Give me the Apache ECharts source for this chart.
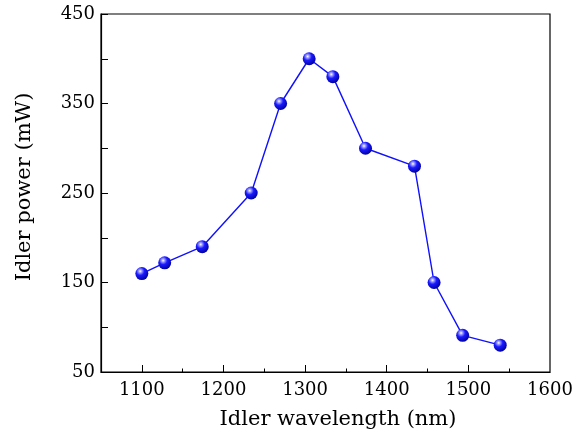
<!DOCTYPE html>
<html>
<head>
<meta charset="utf-8">
<script src="https://cdn.jsdelivr.net/npm/echarts@6/dist/echarts.min.js"></script>
<style>
  html, body { margin: 0; padding: 0; background: #fff; }
  #chart { width: 585px; height: 435px; }
</style>
</head>
<body>
<div id="chart"></div>
<script>
// Idler output power versus idler wavelength
const wavelengths = [1100, 1128, 1174, 1234, 1270, 1305, 1334, 1374, 1434, 1458, 1493, 1539];
const powers = [160, 172, 190, 250, 350, 400, 380, 300, 280, 150, 91, 80];

const xMajorTicks = [1100, 1200, 1300, 1400, 1500];
const xMinorTicks = [1150, 1250, 1350, 1450, 1550];
const xTickLabels = [1100, 1200, 1300, 1400, 1500, 1600];
const yTickLabels = [50, 150, 250, 350, 450];

const FONT = 'DejaVu Serif';
const plain = v => String(v);

const chart = echarts.init(document.getElementById('chart'), null, { renderer: 'canvas' });

const sphere = new echarts.graphic.RadialGradient(0.38, 0.32, 0.7, [
  { offset: 0, color: '#ffffff' },
  { offset: 0.18, color: '#9a9aff' },
  { offset: 0.45, color: '#1a1aff' },
  { offset: 1, color: '#0000a0' }
]);

chart.setOption({
  animation: false,
  backgroundColor: '#ffffff',
  grid: {
    left: 101, right: 35, top: 14, bottom: 60,
    show: true, borderColor: '#000', borderWidth: 1.2, backgroundColor: 'transparent'
  },
  xAxis: [
    {
      type: 'value', min: 1050, max: 1600, interval: 50,
      name: 'Idler wavelength (nm)', nameLocation: 'middle', nameGap: 37,
      nameTextStyle: { fontFamily: FONT, fontSize: 21, color: '#000', padding: [0, 0, 0, 25] },
      axisLine: { show: true, onZero: false, lineStyle: { color: '#000', width: 1.2 } },
      axisTick: { show: true, inside: true, length: 7, customValues: xMajorTicks, lineStyle: { color: '#000', width: 1 } },
      axisLabel: { customValues: xTickLabels, formatter: plain, fontFamily: FONT, fontSize: 18, color: '#000', margin: 9 },
      splitLine: { show: false }
    },
    {
      type: 'value', min: 1050, max: 1600, interval: 50, position: 'bottom',
      axisLine: { show: false },
      axisTick: { show: true, inside: true, length: 3.5, customValues: xMinorTicks, lineStyle: { color: '#000', width: 1 } },
      axisLabel: { show: false },
      splitLine: { show: false }
    }
  ],
  yAxis: {
    type: 'value', min: 50, max: 450, interval: 50,
    name: 'Idler power (mW)', nameLocation: 'middle', nameGap: 66, nameRotate: 90,
    nameTextStyle: { fontFamily: FONT, fontSize: 21, color: '#000', padding: [0, 0, 0, 12] },
    axisLine: { show: true, onZero: false, lineStyle: { color: '#000', width: 1.2 } },
    axisTick: { show: true, inside: true, length: 7, lineStyle: { color: '#000', width: 1 } },
    axisLabel: { customValues: yTickLabels, formatter: plain, fontFamily: FONT, fontSize: 18, color: '#000', margin: 6 },
    splitLine: { show: false }
  },
  series: [{
    type: 'line',
    data: wavelengths.map((w, i) => [w, powers[i]]),
    symbol: 'circle', symbolSize: 13,
    lineStyle: { color: '#1010ff', width: 1.4 },
    itemStyle: { color: sphere, borderWidth: 0 },
    z: 3
  }]
});
</script>
</body>
</html>
